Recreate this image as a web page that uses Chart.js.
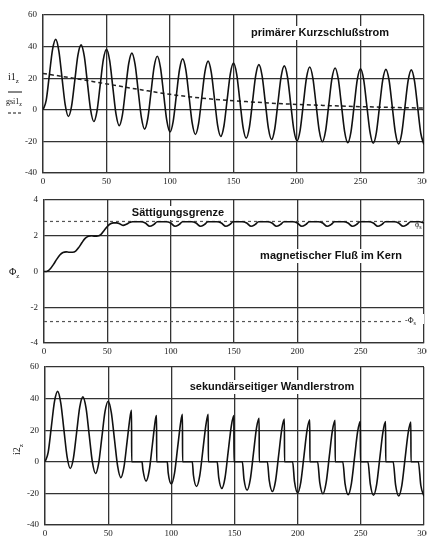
<!DOCTYPE html>
<html>
<head>
<meta charset="utf-8">
<script src="https://cdn.jsdelivr.net/npm/chart.js@4.4.0/dist/chart.umd.min.js"></script>
<style>
  html, body { margin: 0; padding: 0; background: #fff; width: 427px; height: 540px; overflow: hidden; }
  canvas { position: absolute; left: 0; }
</style>
</head>
<body>
<canvas id="c1" width="427" height="186" style="top:0"></canvas>
<canvas id="c2" width="427" height="172" style="top:186px"></canvas>
<canvas id="c3" width="427" height="182" style="top:358px"></canvas>
<script>
// time axis in ms, 0..300
const xTicks = [0, 50, 100, 150, 200, 250, 300];

// primary short-circuit current
const tPrim = [
  0, 2.5, 5, 7.5, 10, 12.5, 15, 17.5,
  20, 22.5, 25, 27.5, 30, 32.5, 35, 37.5,
  40, 42.5, 45, 47.5, 50, 52.5, 55, 57.5,
  60, 62.5, 65, 67.5, 70, 72.5, 75, 77.5,
  80, 82.5, 85, 87.5, 90, 92.5, 95, 97.5,
  100, 102.5, 105, 107.5, 110, 112.5, 115, 117.5,
  120, 122.5, 125, 127.5, 130, 132.5, 135, 137.5,
  140, 142.5, 145, 147.5, 150, 152.5, 155, 157.5,
  160, 162.5, 165, 167.5, 170, 172.5, 175, 177.5,
  180, 182.5, 185, 187.5, 190, 192.5, 195, 197.5,
  200, 202.5, 205, 207.5, 210, 212.5, 215, 217.5,
  220, 222.5, 225, 227.5, 230, 232.5, 235, 237.5,
  240, 242.5, 245, 247.5, 250, 252.5, 255, 257.5,
  260, 262.5, 265, 267.5, 270, 272.5, 275, 277.5,
  280, 282.5, 285, 287.5, 290, 292.5, 295, 297.5,
  300
];
const iPrim = [
  0, 5.9, 22.0, 38.1, 44.6, 37.2, 20.1, 3.1,
  -4.2, 2.3, 18.4, 34.6, 41.1, 33.9, 16.9, -0.1,
  -7.4, -0.8, 15.4, 31.7, 38.3, 31.1, 14.1, -2.8,
  -10.0, -3.4, 12.9, 29.3, 35.9, 28.7, 11.8, -5.0,
  -12.2, -5.5, 10.8, 27.2, 33.9, 26.7, 9.9, -6.9,
  -14.0, -7.3, 9.1, 25.5, 32.2, 25.1, 8.3, -8.5,
  -15.6, -8.8, 7.6, 24.0, 30.8, 23.7, 7.0, -9.8,
  -16.8, -10.1, 6.4, 22.8, 29.6, 22.6, 5.8, -10.9,
  -17.9, -11.1, 5.3, 21.8, 28.6, 21.6, 4.9, -11.8,
  -18.8, -12.0, 4.5, 21.0, 27.8, 20.8, 4.1, -12.6,
  -19.6, -12.8, 3.8, 20.3, 27.1, 20.1, 3.4, -13.2,
  -20.2, -13.4, 3.1, 19.7, 26.5, 19.5, 2.9, -13.8,
  -20.8, -13.9, 2.6, 19.2, 26.0, 19.1, 2.4, -14.2,
  -21.2, -14.4, 2.2, 18.8, 25.6, 18.7, 2.0, -14.6,
  -21.6, -14.7, 1.9, 18.4, 25.3, 18.3, 1.7, -15.0,
  -21.9
];

// decaying DC component (dashed)
const tDc = [0, 20, 40, 60, 80, 100, 120, 140, 160, 180, 200, 220, 240, 260, 280, 300];
const iDc = [23, 20.5, 17.8, 15, 12.3, 9.8, 7.8, 6.3, 5.2, 4.2, 3.4, 2.8, 2.2, 1.8, 1.4, 1.1];

// magnetic flux in the core
const tFlux = [
  0, 2.5, 5, 7.5, 10, 12.5, 15, 17.5, 20, 22.5, 25, 27.5, 30, 32.5, 35, 37.5,
  40, 42.5, 45, 47.5, 50, 52.5, 55, 57.5, 60, 62.5, 65, 67.5, 70,
  76.5, 80, 83.5, 86.5, 89.5,
  96.5, 100, 103.5, 106.5, 109.5,
  116.5, 120, 123.5, 126.5, 129.5,
  136.5, 140, 143.5, 146.5, 149.5,
  156.5, 160, 163.5, 166.5, 169.5,
  176.5, 180, 183.5, 186.5, 189.5,
  196.5, 200, 203.5, 206.5, 209.5,
  216.5, 220, 223.5, 226.5, 229.5,
  236.5, 240, 243.5, 246.5, 249.5,
  256.5, 260, 263.5, 266.5, 269.5,
  276.5, 280, 283.5, 286.5, 289.5,
  296.5, 300
];
const phiFlux = [
  0, 0.02, 0.15, 0.4, 0.68, 0.92, 1.06, 1.1, 1.08, 1.08, 1.14, 1.35, 1.62, 1.85, 1.97, 2.0,
  1.98, 1.99, 2.08, 2.3, 2.52, 2.67, 2.72, 2.72, 2.66, 2.58, 2.64, 2.74, 2.78,
  2.78, 2.71, 2.53, 2.62, 2.78,
  2.78, 2.71, 2.53, 2.62, 2.78,
  2.78, 2.71, 2.53, 2.62, 2.78,
  2.78, 2.71, 2.53, 2.62, 2.78,
  2.78, 2.71, 2.53, 2.62, 2.78,
  2.78, 2.71, 2.53, 2.62, 2.78,
  2.78, 2.71, 2.53, 2.62, 2.78,
  2.78, 2.71, 2.53, 2.62, 2.78,
  2.78, 2.71, 2.53, 2.62, 2.78,
  2.78, 2.71, 2.53, 2.62, 2.78,
  2.78, 2.71, 2.53, 2.62, 2.78,
  2.78, 2.71
];

// saturation limit +/- Phi_s
const tSat = [0, 300];
const phiSatUp = [2.8, 2.8];
const phiSatDown = [-2.8, -2.8];

// secondary transformer current
const tSec = [
  0, 2.5, 5, 7.5, 10, 12.5, 15, 17.5, 20, 22.5, 25, 27.5, 30, 32.5, 35, 37.5,
  40, 42.5, 45, 47.5, 50, 52.5, 55, 57.5, 60, 62.5, 65, 67.5, 68.5, 68.6,
  76.8, 77.5, 80, 82.5, 85, 87.5, 88.3, 88.4,
  96.8, 97.5, 100, 102.5, 105, 107.5, 108.8, 108.9,
  116.6, 117.5, 120, 122.5, 125, 127.5, 129.2, 129.3,
  136.3, 137.5, 140, 142.5, 145, 147.5, 149.5, 149.6,
  156.2, 157.5, 160, 162.5, 165, 167.5, 169.5, 169.6,
  176, 177.5, 180, 182.5, 185, 187.5, 189.5, 189.6,
  196, 197.5, 200, 202.5, 205, 207.5, 209.6, 209.7,
  215.8, 217.5, 220, 222.5, 225, 227.5, 229.6, 229.7,
  235.7, 237.5, 240, 242.5, 245, 247.5, 249.6, 249.7,
  255.6, 257.5, 260, 262.5, 265, 267.5, 269.6, 269.7,
  275.6, 277.5, 280, 282.5, 285, 287.5, 289.6, 289.7,
  295.5, 297.5, 300
];
const iSec = [
  0, 5.9, 22.0, 38.1, 44.6, 37.2, 20.1, 3.1, -4.2, 2.3, 18.4, 34.6, 41.1, 33.9, 16.9, -0.1,
  -7.4, -0.8, 15.4, 31.7, 38.3, 31.1, 14.1, -2.8, -10.0, -3.4, 12.9, 29.3, 32.6, 0,
  0, -5.0, -12.2, -5.5, 10.8, 27.2, 29.2, 0,
  0, -6.9, -14.0, -7.3, 9.1, 25.5, 30.0, 0,
  0, -8.5, -15.6, -8.8, 7.6, 24.0, 30.0, 0,
  0, -9.8, -16.8, -10.1, 6.4, 22.8, 29.2, 0,
  0, -10.9, -17.9, -11.1, 5.3, 21.8, 27.5, 0,
  0, -11.8, -18.8, -12.0, 4.5, 21.0, 27.0, 0,
  0, -12.6, -19.6, -12.8, 3.8, 20.3, 26.6, 0,
  0, -13.2, -20.2, -13.4, 3.1, 19.7, 26.2, 0,
  0, -13.8, -20.8, -13.9, 2.6, 19.2, 25.7, 0,
  0, -14.2, -21.2, -14.4, 2.2, 18.8, 25.4, 0,
  0, -14.6, -21.6, -14.7, 1.9, 18.4, 25.1, 0,
  0, -15.0, -21.9
];

const SERIF = '"Liberation Serif", "DejaVu Serif", serif';
const SANS = '"Liberation Sans", Arial, sans-serif';
const INK = '#111';
const GRID = '#333';

function pts(ts, vs) {
  return ts.map((t, i) => ({ x: t, y: vs[i] }));
}

// text with a lowered, smaller suffix (i1z, Phi_s ...)
function drawSub(ctx, x, y, main, sub, size) {
  ctx.fillStyle = INK;
  ctx.textAlign = 'left';
  ctx.textBaseline = 'alphabetic';
  ctx.font = size + 'px ' + SERIF;
  ctx.fillText(main, x, y);
  const w = ctx.measureText(main).width;
  ctx.font = Math.round(size * 0.7) + 'px ' + SERIF;
  ctx.fillText(sub, x + w, y + size * 0.3);
}

function drawBoxText(ctx, text, cx, cy) {
  ctx.font = 'bold 11px ' + SANS;
  const w = ctx.measureText(text).width;
  ctx.fillStyle = '#fff';
  ctx.fillRect(cx - w / 2 - 3, cy - 7, w + 6, 14);
  ctx.fillStyle = INK;
  ctx.textAlign = 'center';
  ctx.textBaseline = 'middle';
  ctx.fillText(text, cx, cy);
}

function makeScales(yMin, yMax, yStep, yWidth, xHeight) {
  const tickFont = { family: SERIF, size: 9 };
  return {
    x: {
      type: 'linear', min: 0, max: 300,
      afterBuildTicks: (axis) => { axis.ticks = xTicks.map(v => ({ value: v })); },
      ticks: { color: '#222', font: tickFont, padding: 3, maxRotation: 0, autoSkip: false },
      grid: { color: GRID, lineWidth: 1.3, drawTicks: false },
      border: { color: GRID, width: 1.3 },
      afterFit: (axis) => { axis.height = xHeight; axis.paddingLeft = 0; axis.paddingRight = 0; }
    },
    y: {
      min: yMin, max: yMax,
      ticks: { stepSize: yStep, color: '#222', font: tickFont, padding: 6 },
      grid: { color: GRID, lineWidth: 1.3, drawTicks: false },
      border: { color: GRID, width: 1.3 },
      afterFit: (axis) => { axis.width = yWidth; axis.paddingTop = 0; axis.paddingBottom = 0; }
    }
  };
}

function makeChart(id, datasets, scales, padTop, notes) {
  return new Chart(document.getElementById(id), {
    type: 'line',
    data: { datasets: datasets },
    options: {
      responsive: false,
      animation: false,
      layout: { padding: { top: padTop, right: 3, left: 0, bottom: 0 } },
      plugins: { legend: { display: false }, tooltip: { enabled: false } },
      elements: {
        point: { radius: 0 },
        line: { borderWidth: 1.6, borderColor: INK, cubicInterpolationMode: 'monotone', fill: false }
      },
      scales: scales
    },
    plugins: [{ id: 'notes', afterDraw: (chart) => notes(chart.ctx) }]
  });
}

// ==========================
// top: primary short-circuit current
// ==========================
makeChart('c1', [
  { data: pts(tPrim, iPrim), borderColor: INK },
  { data: pts(tDc, iDc), borderColor: '#222', borderDash: [4, 3], borderWidth: 1.5 }
], makeScales(-40, 60, 20, 43, 13), 15, (ctx) => {
  drawBoxText(ctx, 'primärer Kurzschlußstrom', 320, 33);
  drawSub(ctx, 8, 80, 'i1', 'z', 10);
  ctx.strokeStyle = INK; ctx.lineWidth = 1;
  ctx.beginPath(); ctx.moveTo(8, 92); ctx.lineTo(22, 92); ctx.stroke();
  drawSub(ctx, 6, 104, 'gsi1', 'z', 8);
  ctx.setLineDash([3, 2]);
  ctx.beginPath(); ctx.moveTo(8, 113); ctx.lineTo(22, 113); ctx.stroke();
  ctx.setLineDash([]);
});

// ==========================
// middle: magnetic flux
// ==========================
makeChart('c2', [
  { data: pts(tFlux, phiFlux), borderColor: INK },
  { data: pts(tSat, phiSatUp), borderColor: '#555', borderDash: [3, 3], borderWidth: 1.2, cubicInterpolationMode: 'default', tension: 0 },
  { data: pts(tSat, phiSatDown), borderColor: '#555', borderDash: [3, 3], borderWidth: 1.2, cubicInterpolationMode: 'default', tension: 0 }
], makeScales(-4, 4, 2, 44, 15), 14, (ctx) => {
  drawBoxText(ctx, 'Sättigungsgrenze', 178, 27);
  drawBoxText(ctx, 'magnetischer Fluß im Kern', 331, 70);
  drawSub(ctx, 9, 89, 'Φ', 'z', 10);
  drawSub(ctx, 415, 41, 'ϕ', 's', 8);
  ctx.fillStyle = '#fff';
  ctx.fillRect(404, 128, 20, 10);
  drawSub(ctx, 405, 137, '-Φ', 's', 8);
});

// ==========================
// bottom: secondary transformer current
// ==========================
makeChart('c3', [
  { data: pts(tSec, iSec), borderColor: INK }
], makeScales(-40, 60, 20, 45, 15), 9, (ctx) => {
  drawBoxText(ctx, 'sekundärseitiger Wandlerstrom', 272, 29);
  ctx.save();
  ctx.translate(20, 97);
  ctx.rotate(-Math.PI / 2);
  drawSub(ctx, 0, 0, 'i2', 'z', 10);
  ctx.restore();
});
</script>
</body>
</html>
